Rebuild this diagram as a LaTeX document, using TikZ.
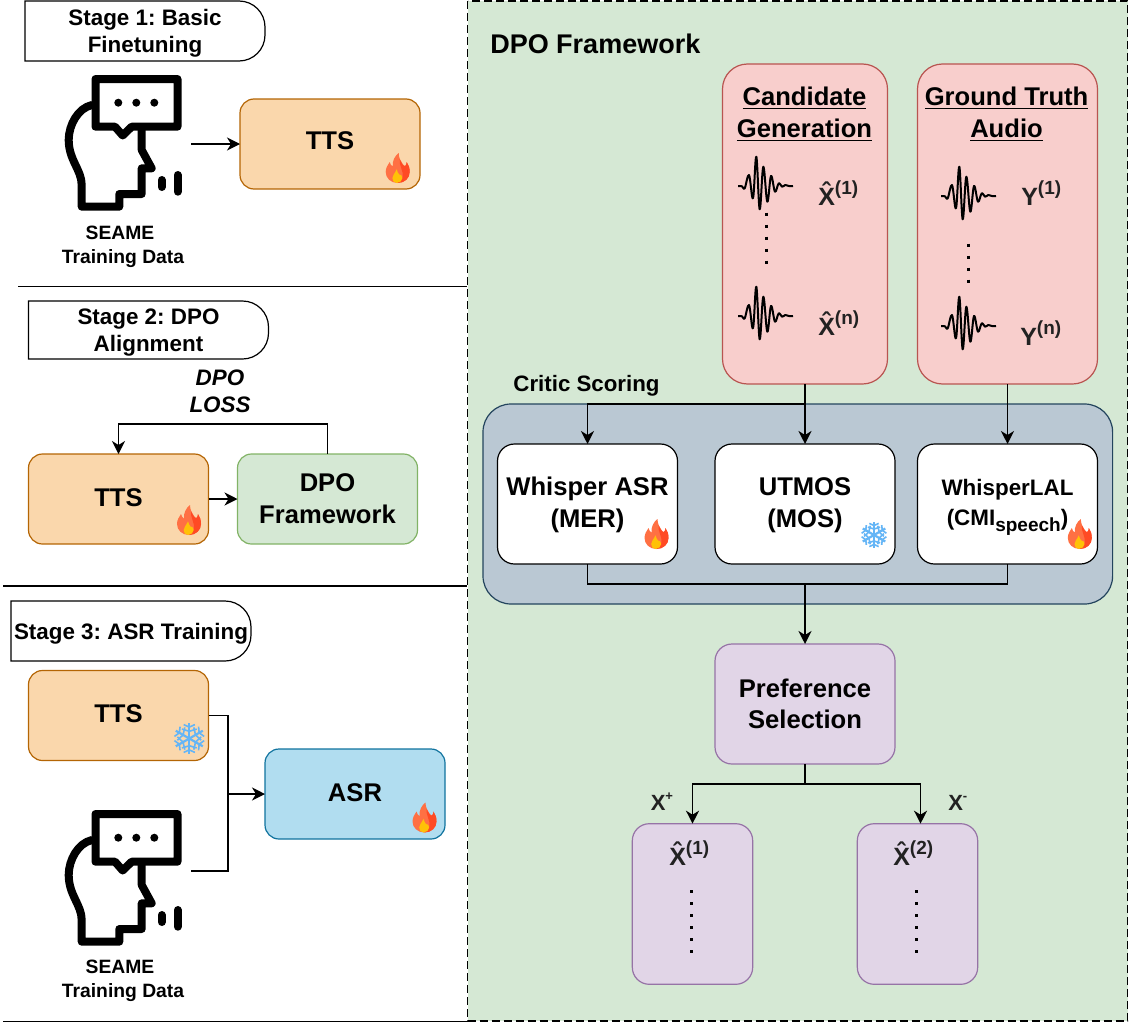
\documentclass[tikz,border=0pt]{standalone}
\usepackage{fontspec}
\setmainfont{Liberation Sans}
\usetikzlibrary{arrows.meta}
\frenchspacing
\definecolor{ttsfill}{HTML}{FAD7AC}
\definecolor{ttsline}{HTML}{B46504}
\definecolor{greenfill}{HTML}{D5E8D4}
\definecolor{greenline}{HTML}{82B366}
\definecolor{asrfill}{HTML}{B1DDF0}
\definecolor{asrline}{HTML}{10739E}
\definecolor{redfill}{HTML}{F8CECC}
\definecolor{redline}{HTML}{B85450}
\definecolor{criticfill}{HTML}{BAC8D3}
\definecolor{criticline}{HTML}{23445D}
\definecolor{purplefill}{HTML}{E1D5E7}
\definecolor{purpleline}{HTML}{9673A6}
\definecolor{labelgray}{HTML}{222222}
\definecolor{flameleft}{HTML}{FF7043}
\definecolor{flameright}{HTML}{FF4A24}
\definecolor{flamecore}{HTML}{FFC107}
\definecolor{snowblue}{HTML}{64B5F6}
\newcommand{\sized}[2]{\fontsize{#1}{#2}\selectfont\bfseries}
\newcommand{\upidx}[1]{\raisebox{0.42em}{\fontsize{19}{19}\selectfont #1}}
\newcommand{\lowidx}[1]{\raisebox{-0.25em}{\fontsize{19}{19}\selectfont #1}}
\newcommand{\ulbold}[1]{\leavevmode\vtop{\hbox{#1}\kern2.2pt\hrule height 1.7pt}}
\newcommand{\tagoutline}[1]{\draw[line width=1.2pt] (#1.south west)--(#1.north west)[rounded corners=26pt]--(#1.north east)--(#1.south east)[sharp corners]--(#1.south west)--cycle;}
\tikzset{
  box/.style={draw,rounded corners=14pt,inner sep=0pt,outer sep=0pt,line width=1.2pt,
    minimum width=180pt,align=center,font=\sized{25.6}{32}},
  ttsbox/.style={box,draw=ttsline,fill=ttsfill,minimum height=90pt,text depth=3.6pt},
  asrbox/.style={box,draw=asrline,fill=asrfill,minimum height=90pt,text depth=3.6pt},
  dpobox/.style={box,draw=greenline,fill=greenfill,minimum height=90pt},
  scorebox/.style={box,draw=black,fill=white,minimum height=120pt,rounded corners=17pt,text depth=3pt},
  audiobox/.style={box,draw=redline,fill=redfill,minimum height=320pt,rounded corners=25pt},
  prefbox/.style={box,draw=purpleline,fill=purplefill,rounded corners=17pt},
  stagetag/.style={inner sep=0pt,outer sep=0pt,minimum width=240pt,minimum height=60pt,
    align=center,text depth=0pt,font=\sized{22.4}{27}},
  mathlabel/.style={anchor=base west,inner sep=0pt,text=labelgray,font=\sized{25}{30}},
  datalabel/.style={align=center,inner sep=0pt,font=\sized{19.3}{24}},
  dotcol/.style={line width=3pt,dash pattern=on 3pt off 9pt},
  speaker/.pic={
    \draw[line width=8pt,line join=round,line cap=round] (31.5,4)--(113.5,4)--(113.5,51.7)--(67.7,51.7)--(58.7,60.5)--(51,51.7)--(31.5,51.7)--cycle;
    \draw[line width=8pt,line join=round,line cap=round] (28,30) .. controls (14,33) and (4.7,50) .. (4.7,65) .. controls (4.7,85) and (17.7,95) .. (17.7,110) -- (17.7,131.7) -- (55.3,131.7) -- (55.3,119) -- (77.7,119) -- (77.7,93.3) -- (87.7,93.3) -- (77.7,75) -- (77.7,52);
    \draw[line width=8pt,line cap=round] (97.7,105)--(97.7,112);
    \draw[line width=8pt,line cap=round] (113.7,100)--(113.7,116.7);
    \fill (54.3,27.7) circle (4);
    \fill (72.3,27.7) circle (4);
    \fill (90.3,27.7) circle (4);
  },
  wave/.pic={
    \draw[line width=2pt,line join=round] plot[smooth,tension=0.6] coordinates {(0,0)(4,0.3)(6.7,2.3)(11,-11)(15,12.3)(18.3,-29.3)(21.7,23.3)(25.3,-19.3)(29.3,15.7)(33,-10)(37,5.7)(40.7,-2.7)(44,0.7)(47.3,-1)(51,0)(55,0)};
  },
  flame/.pic={
    \fill[flameleft] (12,30) .. controls (5,30) and (0,25) .. (0,19) .. controls (0,15) and (2,12) .. (4,9) .. controls (4.5,11) and (5.5,13) .. (7,13.5) .. controls (6.5,8) and (9,3) .. (13,0) .. controls (13,5) and (15,8) .. (17,11) .. controls (18,12.5) and (19,13) .. (19.5,13) .. controls (20.5,12) and (21,10.5) .. (21,9) .. controls (23,12) and (24,15) .. (24,19) .. controls (24,25) and (19,30) .. (12,30) -- cycle;
    \fill[flameright] (12,30) .. controls (19,30) and (24,25) .. (24,19) .. controls (24,15) and (23,12) .. (21,9) .. controls (21,10.5) and (20.5,12) .. (19.5,13) .. controls (18,14) and (15,9) .. (14,6) .. controls (13,12) and (18,18) .. (17,24) -- cycle;
    \fill[flamecore] (11,30) .. controls (8,30) and (6.7,27.5) .. (6.7,25) .. controls (6.7,22) and (9,21) .. (11,16.3) .. controls (11,19) and (13,20) .. (13.5,21.5) .. controls (15,21) and (16.7,23) .. (16.7,25) .. controls (16.7,27.5) and (14,30) .. (11,30) -- cycle;
  },
  snow/.pic={
    \foreach \a in {30,90,150,210,270,330} {
      \draw[snowblue,line width=2.2pt] (0,0)--(\a:13);
      \draw[snowblue,line width=1.6pt] (\a+38:10)--(\a:6)--(\a-38:10);
      \draw[snowblue,line width=1.6pt] (\a+22:12.5)--(\a:9.5)--(\a-22:12.5);
    }
  }
}
\begin{document}
\begin{tikzpicture}[x=1pt,y=-1pt,>={Stealth[length=13pt,width=13pt,inset=4pt]},line width=1.5pt]
\useasboundingbox (0,0) rectangle (1129,1025);
% framework panel
\draw[fill=greenfill,line width=1.2pt,dash pattern=on 8pt off 4pt] (467.5,1) rectangle (1127.5,1021);
\draw[line width=1pt] (18,286)--(467,286);
\draw[line width=1.4pt] (3,586)--(467,586);
\draw[line width=1pt] (3,1021)--(467,1021);
% stage 1
\node[stagetag] (stagea) at (145,31) {Stage 1: Basic\\Finetuning};
\tagoutline{stagea}
\pic at (64,75) {speaker};
\node[datalabel] (dataa) at (123,247) {SEAME\hspace*{6pt}\\Training Data};
\coordinate (heada) at (191,144);
\node[ttsbox,text depth=6pt] (ttsa) at (330,144) {TTS};
\draw[->] (heada)--(ttsa.west);
\pic at (385.7,153) {flame};
% stage 2
\node[stagetag,minimum height=58pt] (stageb) at (148.5,330) {Stage 2: DPO\\Alignment};
\tagoutline{stageb}
\node[align=center,inner sep=0pt,font=\sized{22.4}{27}\itshape] (loss) at (220,391) {DPO\\LOSS};
\node[ttsbox] (ttsb) at (118.5,499) {TTS};
\node[dpobox] (dpo) at (327.5,499) {DPO\\Framework};
\coordinate (lossturn) at (327.5,424);
\draw[->] (ttsb.east)--(dpo.west);
\draw[->] (dpo.north)--(lossturn)-|(ttsb.north);
\pic at (177,505) {flame};
% stage 3
\node[stagetag] (stagec) at (131,631) {Stage 3: ASR Training};
\tagoutline{stagec}
\node[ttsbox] (ttsc) at (118.5,715.5) {TTS};
\pic[scale=1.2] at (189.3,738.5) {snow};
\pic at (64,810) {speaker};
\node[datalabel] (datab) at (123,981) {SEAME\hspace*{6pt}\\Training Data};
\node[asrbox] (asr) at (355,794) {ASR};
\pic at (412.5,802.5) {flame};
\coordinate (headb) at (191,871);
\coordinate (merge) at (228,794);
\draw (ttsc.east)-|(merge);
\draw (headb)-|(merge);
\draw[->] (merge)--(asr.west);
% framework
\node[inner sep=0pt,anchor=west,font=\sized{27}{30}] (frame) at (489.5,44) {DPO Framework};
\node[audiobox,minimum width=165pt] (cand) at (805,224) {};
\node[audiobox] (truth) at (1007.5,224) {};
\node[align=center,inner sep=0pt,font=\sized{25.6}{32}] (candtitle) at (804.5,114) {\ulbold{Candidate}\\\ulbold{Generation}};
\node[align=center,inner sep=0pt,font=\sized{25.6}{32}] (truthtitle) at (1006.5,114) {\ulbold{Ground Truth}\\\ulbold{Audio}};
\pic at (738,186) {wave};
\pic at (738,316) {wave};
\pic at (941,196) {wave};
\pic at (941,326) {wave};
\draw[dotcol] (766,212.5)--(766,264);
\draw[dotcol] (968.7,243.5)--(968.7,283);
\node[mathlabel] (xone) at (817.5,205) {X̂\upidx{(1)}};
\node[mathlabel] (xlast) at (817.5,335) {X̂\upidx{(n)}};
\node[mathlabel] (yone) at (1020.5,205) {Y\upidx{(1)}};
\node[mathlabel] (ylast) at (1019.5,345) {Y\upidx{(n)}};
% critics
\node[box,draw=criticline,fill=criticfill,minimum width=629.6pt,minimum height=200pt,rounded corners=28pt] (critic) at (797.8,504) {};
\node[inner sep=0pt,font=\sized{22.3}{26}] (crititle) at (586.5,386) {Critic Scoring};
\node[scorebox] (whisper) at (587.5,504) {Whisper ASR\\(MER)};
\node[scorebox] (utmos) at (805,504) {UTMOS\\(MOS)};
\node[scorebox,font=\sized{22.4}{30},text depth=3pt] (lal) at (1007.5,504) {WhisperLAL\\(CMI\lowidx{speech})};
\pic at (644.5,519) {flame};
\pic at (1067.8,519) {flame};
\pic at (874,535) {snow};
\draw[->,line width=2pt] (cand.south)--(utmos.north);
\draw[->] (cand.south|-critic.north)-|(whisper.north);
\draw[->] (truth.south)--(lal.north);
\coordinate (join) at (805,584);
\draw (whisper.south)|-(join)-|(lal.south);
% preference
\node[prefbox,minimum height=120pt,font=\sized{25.6}{31}] (pref) at (805,704) {Preference\\Selection};
\draw[->,line width=2pt] (join)--(pref.north);
\coordinate (split) at (805,784);
\node[prefbox,minimum width=120.4pt,minimum height=160.6pt] (posx) at (692.5,904) {};
\node[prefbox,minimum width=120.4pt,minimum height=160.6pt] (negx) at (917.5,904) {};
\draw[->] (pref.south)--(split)-|(posx.north);
\draw[->] (split)-|([xshift=3pt]negx.north);
\node[mathlabel,font=\sized{22}{26}] (plus) at (650,810.7) {X\raisebox{0.45em}{\fontsize{13}{13}\selectfont +}};
\node[mathlabel,font=\sized{22}{26}] (minus) at (947.5,810.7) {X\raisebox{0.45em}{\fontsize{13}{13}\selectfont -}};
\node[mathlabel] (xpos) at (668.5,865) {X̂\upidx{(1)}};
\node[mathlabel] (xneg) at (892.5,865) {X̂\upidx{(2)}};
\draw[dotcol] (691.7,890)--(691.7,953);
\draw[dotcol] (916,890)--(916,953);
\end{tikzpicture}
\end{document}
